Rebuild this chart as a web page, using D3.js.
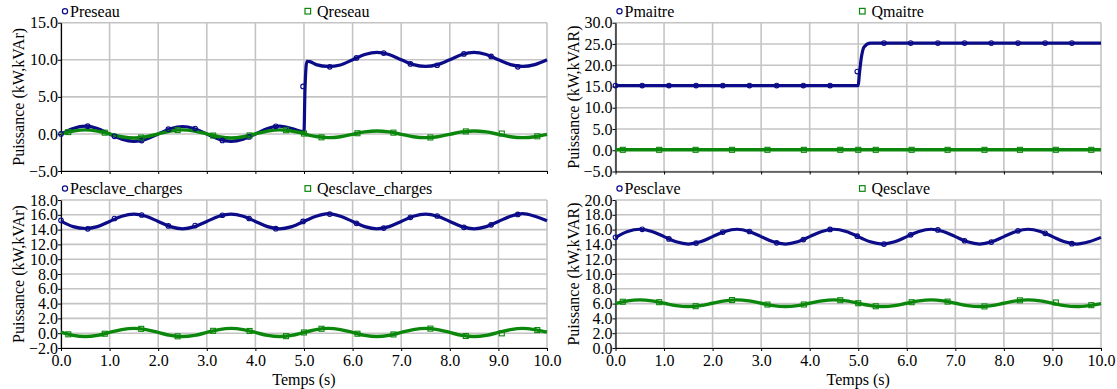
<!DOCTYPE html>
<html><head><meta charset="utf-8">
<script src="https://cdn.jsdelivr.net/npm/d3@7"></script>
<style>html,body{margin:0;padding:0;background:#fff;} svg{display:block;}</style>
</head><body><svg id="c" width="1117" height="389"></svg>
<script>
// ---------- data ----------
const T = [0,0.25,0.5,0.75,1,1.25,1.5,1.75,2,2.25,2.5,2.75,3,3.25,3.5,3.75,4,4.25,4.5,4.75,
  5,5.02,5.06,5.12,5.25,5.5,5.75,6,6.25,6.5,6.75,7,7.25,7.5,7.75,8,8.25,8.5,8.75,9,9.25,9.5,9.75,10];

const pReseau = [0,0.74,1.05,0.74,0,-0.7,-1.0,-0.7,0,0.7,1.0,0.7,0,-0.7,-1.0,-0.7,0,0.74,1.05,0.74,
  0.3,6.0,9.8,9.75,9.35,9.1,9.3,10.0,10.7,11.0,10.7,10.0,9.35,9.1,9.35,10.0,10.7,11.0,10.7,10.0,9.35,9.1,9.35,10.0];
const qReseau = [0,0.38,0.55,0.38,0,-0.38,-0.55,-0.38,0,0.38,0.55,0.38,0,-0.38,-0.55,-0.38,0,0.38,0.55,0.38,
  0.05,0.0,-0.1,-0.2,-0.35,-0.5,-0.38,-0.05,0.27,0.4,0.27,-0.05,-0.38,-0.5,-0.38,-0.05,0.27,0.4,0.27,-0.05,-0.38,-0.5,-0.38,-0.05];

const pMaitre = [15.2,15.2,15.2,15.2,15.2,15.2,15.2,15.2,15.2,15.2,15.2,15.2,15.2,15.2,15.2,15.2,15.2,15.2,15.2,15.2,
  15.2,17.5,21.5,24.3,25.2,25.2,25.2,25.2,25.2,25.2,25.2,25.2,25.2,25.2,25.2,25.2,25.2,25.2,25.2,25.2,25.2,25.2,25.2,25.2];
const qMaitre = [0.1,0.1,0.1,0.1,0.1,0.1,0.1,0.1,0.1,0.1,0.1,0.1,0.1,0.1,0.1,0.1,0.1,0.1,0.1,0.1,
  0.1,0.1,0.1,0.1,0.1,0.1,0.1,0.1,0.1,0.1,0.1,0.1,0.1,0.1,0.1,0.1,0.1,0.1,0.1,0.1,0.1,0.1,0.1,0.1];

const pCharges = [15.15,14.4,14.15,14.4,15.1,15.8,16.1,15.8,15.1,14.4,14.1,14.4,15.1,15.8,16.1,15.8,15.1,14.4,14.1,14.4,
  15.1,15.16,15.29,15.47,15.8,16.15,15.8,15.1,14.4,14.1,14.4,15.1,15.8,16.1,15.8,15.1,14.4,14.1,14.4,15.1,15.8,16.15,15.8,15.2];
const qCharges = [0.15,-0.29,-0.45,-0.29,0.1,0.49,0.65,0.49,0.1,-0.29,-0.45,-0.29,0.1,0.49,0.65,0.49,0.1,-0.29,-0.45,-0.29,
  0.1,0.13,0.2,0.3,0.49,0.65,0.49,0.1,-0.29,-0.45,-0.29,0.1,0.49,0.65,0.49,0.1,-0.29,-0.45,-0.29,0.1,0.49,0.65,0.49,0.15];

const pEsclave = [14.95,15.75,16.05,15.75,15.05,14.35,14.05,14.35,15.05,15.75,16.05,15.75,15.05,14.35,14.05,14.35,15.05,15.75,16.05,15.75,
  15.05,14.99,14.86,14.68,14.35,14.05,14.35,15.05,15.75,16.05,15.75,15.05,14.35,14.05,14.35,15.05,15.75,16.05,15.75,15.05,14.35,14.05,14.35,14.95];
const qEsclave = [6.0,6.37,6.5,6.37,6.05,5.73,5.6,5.73,6.05,6.37,6.5,6.37,6.05,5.73,5.6,5.73,6.05,6.37,6.5,6.37,
  6.05,6.02,5.97,5.88,5.73,5.6,5.73,6.05,6.37,6.5,6.37,6.05,5.73,5.6,5.73,6.05,6.37,6.5,6.37,6.05,5.73,5.6,5.73,6.0];

// marker samples (circles for P, squares for Q)
const markTP = [0,0.55,1.1,1.66,2.21,2.76,3.32,3.87,4.42,4.98,5.53,6.08,6.64,7.19,7.74,8.29,8.85,9.4];
const markTQ = [0.15,0.9,1.65,2.4,3.13,3.88,4.63,5.0,5.36,6.1,6.84,7.6,8.33,9.07,9.8];
const mkPReseau = [0,1.04,-0.32,-0.9,0.64,0.72,-0.88,-0.41,1.02,6.4,9.05,10.25,10.9,9.44,9.26,10.79,10.45,9.05];
const mkQReseau = [0.25,0.17,-0.49,0.52,-0.22,-0.2,0.5,0.05,-0.46,0.09,0.17,-0.48,0.34,0.05,-0.32];
const mkPMaitre = [15.2,15.2,15.2,15.2,15.2,15.2,15.2,15.2,15.2,18.5,25.2,25.2,25.2,25.2,25.2,25.2,25.2,25.2];
const mkQMaitre = [0.1,0.1,0.1,0.1,0.1,0.1,0.1,0.1,0.1,0.1,0.1,0.1,0.1,0.1,0.1];
const mkPCharges = [15.25,14.11,15.5,15.97,14.49,14.55,15.94,15.5,14.13,15.1,16.1,14.85,14.2,15.66,15.84,14.31,14.65,16.05];
const mkQCharges = [-0.15,-0.07,0.59,-0.42,0.32,0.3,-0.4,0.1,0.6,-0.07,-0.17,0.62,-0.38,-0.02,0.42];
const mkPEsclave = [14.95,16.04,14.74,14.18,15.66,15.74,14.21,14.65,16.02,15.11,14.05,15.3,15.95,14.49,14.31,15.84,15.5,14.1];
const mkQEsclave = [6.25,6.19,5.65,6.48,5.87,5.88,6.46,6.05,5.64,6.19,6.27,5.62,6.44,6.15,5.79];

// tick values
const xTicks = [0,1,2,3,4,5,6,7,8,9,10];
const yTicksTL = [-5,0,5,10,15];
const yTicksTR = [-5,0,5,10,15,20,25,30];
const yTicksBL = [-2,0,2,4,6,8,10,12,14,16,18];
const yTicksBR = [0,2,4,6,8,10,12,14,16,18,20];

// labels
const xLabel = "Temps (s)";
const yLabelLeft = "Puissance (kW,kVAr)";
const yLabelRight = "Puissance (kW,kVAR)";

// ---------- drawing ----------
const svg = d3.select('#c');
const FONT = '"Liberation Serif"';
const BLUE = '#0c0c88', GREEN = '#0b870b', GRID = '#c4c4c4';

function txt(sel) {
  return sel.style('font-family', FONT).style('font-size', '16px').attr('fill', '#000');
}

function panel(cfg) {
  const x = d3.scaleLinear().domain([0, 10]).range([cfg.left, cfg.right]);
  const y = d3.scaleLinear().domain([cfg.ticks[0], cfg.ticks[cfg.ticks.length - 1]]).range([cfg.bottom, cfg.top]);
  const g = svg.append('g');

  g.append('g').selectAll('line').data(xTicks).join('line')
    .attr('x1', d => x(d)).attr('x2', d => x(d)).attr('y1', cfg.top).attr('y2', cfg.bottom)
    .attr('stroke', GRID).attr('stroke-width', 1.6);
  g.append('g').selectAll('line').data(cfg.ticks).join('line')
    .attr('x1', cfg.left).attr('x2', cfg.right).attr('y1', d => y(d)).attr('y2', d => y(d))
    .attr('stroke', GRID).attr('stroke-width', 1.6);

  const ya = g.append('g').attr('transform', `translate(${cfg.left},0)`)
    .call(d3.axisLeft(y).tickValues(cfg.ticks).tickFormat(d3.format('.1f')).tickSize(3).tickSizeOuter(0).tickPadding(0));
  const xa = g.append('g').attr('transform', `translate(0,${cfg.bottom})`)
    .call(d3.axisBottom(x).tickValues(xTicks).tickFormat(cfg.xlabels ? d3.format('.1f') : '').tickSize(3).tickSizeOuter(0).tickPadding(4));
  [ya, xa].forEach(a => {
    a.attr('font-family', null);
    a.select('.domain').attr('stroke', '#000').attr('stroke-width', 1.2);
    a.selectAll('.tick line').attr('stroke', '#000');
    txt(a.selectAll('text'));
  });

  const line = d3.line().x(d => x(d[0])).y(d => y(d[1])).curve(d3.curveMonotoneX);
  g.append('path').datum(T.map((t, i) => [t, cfg.p[i]])).attr('d', line)
    .attr('fill', 'none').attr('stroke', BLUE).attr('stroke-width', 3.2);
  g.append('path').datum(T.map((t, i) => [t, cfg.q[i]])).attr('d', line)
    .attr('fill', 'none').attr('stroke', GREEN).attr('stroke-width', 3.4);

  g.append('g').selectAll('circle').data(markTP.map((t, i) => [t, cfg.mp[i]])).join('circle')
    .attr('cx', d => x(d[0])).attr('cy', d => y(d[1])).attr('r', 2.3)
    .attr('fill', 'none').attr('stroke', BLUE).attr('stroke-width', 1.1);
  g.append('g').selectAll('rect').data(markTQ.map((t, i) => [t, cfg.mq[i]])).join('rect')
    .attr('x', d => x(d[0]) - 2.5).attr('y', d => y(d[1]) - 2.5).attr('width', 5).attr('height', 5)
    .attr('fill', 'none').attr('stroke', GREEN).attr('stroke-width', 1.1);

  // legend
  const ly = cfg.top - 11.5;
  g.append('circle').attr('cx', cfg.left + 4).attr('cy', ly).attr('r', 2.6)
    .attr('fill', 'none').attr('stroke', BLUE).attr('stroke-width', 1.2);
  txt(g.append('text').attr('x', cfg.left + 9).attr('y', ly + 5.5).text(cfg.pName));
  g.append('rect').attr('x', cfg.left + 244).attr('y', ly - 2.8).attr('width', 5.6).attr('height', 5.6)
    .attr('fill', 'none').attr('stroke', GREEN).attr('stroke-width', 1.2);
  txt(g.append('text').attr('x', cfg.left + 256).attr('y', ly + 5.5).text(cfg.qName));

  // y label
  txt(g.append('text').attr('transform', `translate(${cfg.left - 37},${(cfg.top + cfg.bottom) / 2}) rotate(-90)`)
    .attr('text-anchor', 'middle').text(cfg.yLabel));
  if (cfg.xlabels) {
    txt(g.append('text').attr('x', (cfg.left + cfg.right) / 2).attr('y', cfg.bottom + 37)
      .attr('text-anchor', 'middle').text(xLabel));
  }
}

const L = 61, R = 547, L2 = 615.5, R2 = 1101;
panel({left: L, right: R, top: 22.7, bottom: 171, ticks: yTicksTL, p: pReseau, q: qReseau, mp: mkPReseau, mq: mkQReseau,
  pName: 'Preseau', qName: 'Qreseau', yLabel: yLabelLeft, xlabels: false});
panel({left: L2, right: R2, top: 22.7, bottom: 171.5, ticks: yTicksTR, p: pMaitre, q: qMaitre, mp: mkPMaitre, mq: mkQMaitre,
  pName: 'Pmaitre', qName: 'Qmaitre', yLabel: yLabelRight, xlabels: false});
panel({left: L, right: R, top: 200, bottom: 348, ticks: yTicksBL, p: pCharges, q: qCharges, mp: mkPCharges, mq: mkQCharges,
  pName: 'Pesclave_charges', qName: 'Qesclave_charges', yLabel: yLabelLeft, xlabels: true});
panel({left: L2, right: R2, top: 200, bottom: 348, ticks: yTicksBR, p: pEsclave, q: qEsclave, mp: mkPEsclave, mq: mkQEsclave,
  pName: 'Pesclave', qName: 'Qesclave', yLabel: yLabelRight, xlabels: true});
</script>
</body></html>
